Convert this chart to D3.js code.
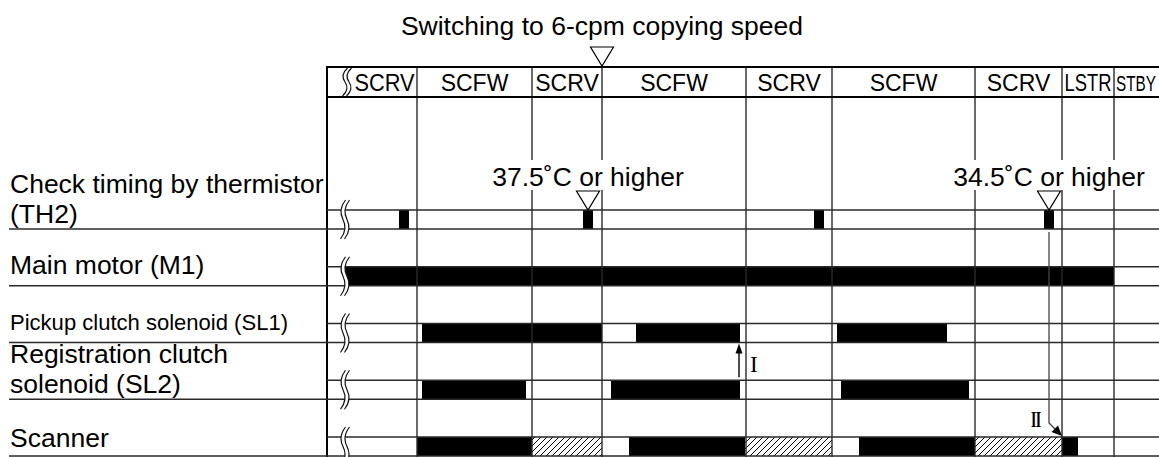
<!DOCTYPE html>
<html>
<head>
<meta charset="utf-8">
<script src="https://cdn.jsdelivr.net/npm/d3@7"></script>
<style>
  html, body { margin: 0; padding: 0; background: #fff; }
  svg { display: block; }
  text { font-family: "Liberation Sans", Arial, Helvetica, sans-serif; fill: #000; }
  .serif { font-family: "Liberation Serif", "Times New Roman", serif; }
</style>
</head>
<body>
<svg id="chart" width="1159" height="457"></svg>
<script>
// ---------------- data ----------------
const titleText = "Switching to 6-cpm copying speed";
const speedSwitchAt = 275;

const phaseNames  = ["SCRV", "SCFW", "SCRV", "SCFW", "SCRV", "SCFW", "SCRV", "LSTR", "STBY"];
const phaseStarts = [25, 90, 205, 275, 419, 505, 648, 735, 787];
const phaseEnds   = [90, 205, 275, 419, 505, 648, 735, 787, 830];
const phaseBoundaries = [90, 205, 275, 419, 505, 648, 735, 787];

const rowNames = ["TH2", "M1", "SL1", "SL2", "Scanner"];
const rowLabels = [
  ["Check timing by thermistor", "(TH2)"],
  ["Main motor (M1)"],
  ["Pickup clutch solenoid (SL1)"],
  ["Registration clutch", "solenoid (SL2)"],
  ["Scanner"]
];

const th2Pulses    = [[72, 82], [256, 266], [487, 497], [717, 727]];
const motorOn      = [[18, 787]];
const sl1On        = [[95, 275], [309, 413], [510, 620]];
const sl2On        = [[95, 199], [284, 413], [514, 642]];
const scannerOn    = [[90, 205], [302, 418], [532, 648], [735, 751]];
const scannerHatch = [[205, 275], [418, 505], [648, 735]];

const tempLabels = ["37.5˚C or higher", "34.5˚C or higher"];
const tempAt     = [261, 722];

const arrowIAt   = 412;
const arrowIIAt  = 722;
const arrowIIEnd = 735;

// ---------------- layout ----------------
const W = 1159, H = 457;
const frameLeft = 327;
const x = d3.scaleLinear().domain([0, 832]).range([frameLeft, W]);
const rowTop = d3.scaleLinear().domain([0, rowNames.length - 1]).range([210, 437]);
const rowH = 19;
const headerTop = 67, headerBottom = 97;
const lineCol = "#2a2a2a";

const svg = d3.select("#chart");
const defs = svg.append("defs");
const pat = defs.append("pattern").attr("id", "hatch")
  .attr("width", 6).attr("height", 6).attr("patternUnits", "userSpaceOnUse");
pat.append("rect").attr("width", 6).attr("height", 6).attr("fill", "#fff");
pat.append("path").attr("d", "M0,6 L6,0 M-1,1 L1,-1 M5,7 L7,5")
  .attr("stroke", "#000").attr("stroke-width", 1);

// ---------------- bars ----------------
const bars = svg.append("g");
const rowSeries = [th2Pulses, motorOn, sl1On, sl2On, scannerOn];
rowSeries.forEach((series, i) => {
  bars.selectAll(null).data(series).enter().append("rect")
    .attr("x", d => x(d[0])).attr("width", d => x(d[1]) - x(d[0]))
    .attr("y", rowTop(i)).attr("height", rowH)
    .attr("fill", "#000");
});
bars.selectAll(null).data(scannerHatch).enter().append("rect")
  .attr("x", d => x(d[0])).attr("width", d => x(d[1]) - x(d[0]))
  .attr("y", rowTop(4)).attr("height", rowH)
  .attr("fill", "url(#hatch)");

// ---------------- grid ----------------
const grid = svg.append("g");
grid.selectAll(null).data(phaseBoundaries).enter().append("line")
  .attr("x1", d => x(d)).attr("x2", d => x(d))
  .attr("y1", headerTop).attr("y2", H)
  .attr("stroke", lineCol).attr("stroke-width", 1.4);

// frame
grid.append("line").attr("x1", frameLeft).attr("x2", frameLeft)
  .attr("y1", headerTop - 1).attr("y2", H).attr("stroke", "#000").attr("stroke-width", 2);
grid.append("line").attr("x1", frameLeft).attr("x2", W)
  .attr("y1", headerTop).attr("y2", headerTop).attr("stroke", "#000").attr("stroke-width", 2);
grid.append("line").attr("x1", frameLeft).attr("x2", W)
  .attr("y1", headerBottom).attr("y2", headerBottom).attr("stroke", "#000").attr("stroke-width", 2);

// row lines
rowNames.forEach((r, i) => {
  grid.append("line").attr("x1", frameLeft).attr("x2", W)
    .attr("y1", rowTop(i)).attr("y2", rowTop(i))
    .attr("stroke", lineCol).attr("stroke-width", 1.5);
  grid.append("line").attr("x1", 9).attr("x2", W)
    .attr("y1", rowTop(i) + rowH).attr("y2", rowTop(i) + rowH)
    .attr("stroke", lineCol).attr("stroke-width", 1.5);
});

// ---------------- wavy break symbols ----------------
function sCurve(cx, y0, y1) {
  const h = y1 - y0, m = (y0 + y1) / 2;
  return `M${cx + 2.5},${y0} Q${cx - 5},${y0 + h * 0.25} ${cx},${m} Q${cx + 5},${y1 - h * 0.25} ${cx - 2.5},${y1}`;
}
function sCurveRev(cx, y0, y1) {
  const h = y1 - y0, m = (y0 + y1) / 2;
  return `L${cx - 2.5},${y1} Q${cx + 5},${y1 - h * 0.25} ${cx},${m} Q${cx - 5},${y0 + h * 0.25} ${cx + 2.5},${y0} Z`;
}
function wavy(g, cx, y0, y1) {
  g.append("path").attr("d", sCurve(cx, y0, y1) + sCurveRev(cx + 4, y0, y1))
    .attr("fill", "#fff").attr("stroke", "none");
  g.append("path").attr("d", sCurve(cx, y0, y1)).attr("fill", "none")
    .attr("stroke", "#111").attr("stroke-width", 1.2);
  g.append("path").attr("d", sCurve(cx + 4, y0, y1)).attr("fill", "none")
    .attr("stroke", "#111").attr("stroke-width", 1.2);
}
const wv = svg.append("g");
wavy(wv, x(18), headerTop + 1, headerBottom - 1);
rowNames.forEach((r, i) => wavy(wv, x(16), rowTop(i) - 10, rowTop(i) + rowH + 10));

// ---------------- header labels ----------------
const hdr = svg.append("g");
phaseNames.forEach((name, i) => {
  const x0 = x(phaseStarts[i]), x1 = x(phaseEnds[i]);
  const isLast = i === phaseNames.length - 1;
  const g = hdr.append("g");
  const t = g.append("text").text(name).attr("font-size", 23)
    .attr("x", 0).attr("y", 0).attr("text-anchor", isLast ? "start" : "middle");
  const w = t.node().getComputedTextLength();
  const avail = isLast ? (x1 - x0) - 3 : (x1 - x0) - 5;
  const s = Math.min(1, avail / w);
  const tx = isLast ? x0 + 2 : (x0 + x1) / 2;
  g.attr("transform", `translate(${tx},91) scale(${s},1)`);
});

// ---------------- title + switch marker ----------------
svg.append("text").text(titleText).attr("x", x(speedSwitchAt)).attr("y", 35)
  .attr("text-anchor", "middle").attr("font-size", 26.5);
function downTri(cx, yTop, yTip) {
  return `M${cx - 11.5},${yTop} L${cx + 11.5},${yTop} L${cx},${yTip} Z`;
}
svg.append("path").attr("d", downTri(x(speedSwitchAt), 47, headerTop - 1))
  .attr("fill", "#fff").attr("stroke", "#000").attr("stroke-width", 1.2);

// ---------------- temperature checks ----------------
tempLabels.forEach((lbl, i) => {
  const cx = x(tempAt[i]);
  const g = svg.append("g");
  const bg = g.append("rect");
  const t = g.append("text").text(lbl).attr("x", cx).attr("y", 186)
    .attr("text-anchor", "middle").attr("font-size", 26.5);
  const bb = t.node().getBBox();
  bg.attr("x", bb.x - 1).attr("width", bb.width + 2).attr("y", 160).attr("height", 30).attr("fill", "#fff");
  g.append("path").attr("d", downTri(cx, 191, rowTop(0)))
    .attr("fill", "#fff").attr("stroke", "#000").attr("stroke-width", 1.2);
});

// ---------------- row labels ----------------
const labelOffsets = [[-36, -6], [-12], [-13], [-36, -6], [-9]];
const labelSizes = [26.5, 26.5, 22, 26.5, 26.5];
const lbls = svg.append("g");
rowLabels.forEach((lines, i) => {
  const bottom = rowTop(i) + rowH;
  lines.forEach((ln, j) => {
    const t = lbls.append("text").text(ln).attr("x", 10)
      .attr("y", bottom + labelOffsets[i][j]).attr("font-size", labelSizes[i]);
    if (i === 2) t.attr("textLength", 278).attr("lengthAdjust", "spacingAndGlyphs");
  });
});

// ---------------- arrows ----------------
const ar = svg.append("g");
const axI = x(arrowIAt);
ar.append("line").attr("x1", axI).attr("x2", axI)
  .attr("y1", rowTop(3) - 3).attr("y2", rowTop(2) + rowH + 8)
  .attr("stroke", "#000").attr("stroke-width", 1.4);
ar.append("path").attr("d", `M${axI},${rowTop(2) + rowH + 1} L${axI - 3.5},${rowTop(2) + rowH + 11} L${axI + 3.5},${rowTop(2) + rowH + 11} Z`)
  .attr("fill", "#000");
ar.append("text").attr("class", "serif").text("I")
  .attr("x", axI + 11).attr("y", 372).attr("font-size", 23);

const axII = x(arrowIIAt), axIIe = x(arrowIIEnd);
const tipY = rowTop(4) - 1;
const kneeY = tipY - (axIIe - axII);
ar.append("path").attr("d", `M${axII},${rowTop(0) + rowH + 3} V${kneeY} L${axIIe - 5},${tipY - 5}`)
  .attr("fill", "none").attr("stroke", "#444").attr("stroke-width", 1.3);
ar.append("path").attr("d", `M${axIIe},${tipY} L${axIIe - 10.5},${tipY - 4} L${axIIe - 4},${tipY - 10.5} Z`)
  .attr("fill", "#000");
ar.append("g").attr("transform", `translate(${axII - 18},427) scale(0.6,1)`)
  .append("text").attr("class", "serif").text("II")
  .attr("x", 0).attr("y", 0).attr("font-size", 23).attr("font-weight", "bold")
  .attr("letter-spacing", -1);
</script>
</body>
</html>
